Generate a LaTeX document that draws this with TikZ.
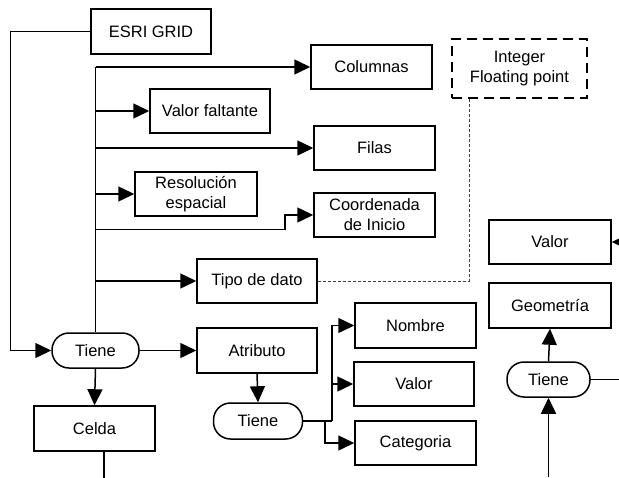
\documentclass[tikz,border=0pt]{standalone}
\usepackage{fontspec}
\setmainfont{Liberation Sans}
\usetikzlibrary{arrows.meta}
\tikzset{
	caja/.style={draw, line width=1.5pt, minimum width=121pt, minimum height=44pt, inner sep=1pt, align=center, font=\fontsize{16.5}{20}\selectfont},
	tiene/.style={draw, line width=1.5pt, rounded corners=17pt, minimum width=87pt, minimum height=35pt, inner sep=1pt, font=\fontsize{16.5}{20}\selectfont},
	flecha/.style={line width=1.5pt, -{Triangle[length=16pt,width=15pt]}},
	linea/.style={line width=1.5pt}
}

\begin{document}
\begin{tikzpicture}[x=1pt,y=-1pt]
	\useasboundingbox (0,0) rectangle (619,477);

	\node (esri) at (151,31.5) [caja, minimum width=120pt, minimum height=45pt]{ESRI GRID};
	\node (columnas) at (371.5,67) [caja]{Columnas};
	\node (tipos) at (519.5,68.5) [caja, minimum width=135pt, minimum height=59pt, dash pattern=on 10pt off 6pt, line width=2.4pt]{Integer\\Floating point};
	\node (faltante) at (210,111) [caja, minimum width=120pt]{Valor faltante};
	\node (filas) at (374.5,148) [caja]{Filas};
	\node (resolucion) at (196,194) [caja, minimum width=122pt]{Resolución\\espacial};
	\node (coordenada) at (374.5,215) [caja]{Coordenada\\de Inicio};
	\node (tipo) at (257,281) [caja, minimum width=120pt]{Tipo de dato};
	\node (valorG) at (550,242) [caja, minimum width=122pt]{Valor};
	\node (geometria) at (550,305.5) [caja, minimum width=122pt, minimum height=45pt]{Geometría};

	\node (tieneG) at (95.5,350.5) [tiene]{Tiene};
	\node (atributo) at (257,350.5) [caja, minimum width=120pt, minimum height=45pt]{Atributo};
	\node (celda) at (94.5,428.5) [caja, minimum height=45pt]{Celda};
	\node (tieneA) at (258,421) [tiene, minimum width=89pt, minimum height=36pt]{Tiene};
	\node (nombre) at (415.5,325.5) [caja, minimum height=45pt]{Nombre};
	\node (valorA) at (414,384) [caja, minimum width=120pt]{Valor};
	\node (categoria) at (415.5,443) [caja]{Categoria};
	\node (tieneV) at (548.5,379.5) [tiene, minimum width=83pt]{Tiene};

	% ESRI GRID tiene ...
	\draw [flecha] (esri.west) -- ++(-80,0) |- (tieneG.west);
	\draw [linea] (tieneG.north) -- (tieneG.north |- columnas.west);
	\draw [flecha] (tieneG.north |- columnas.west) -- (columnas.west);
	\draw [flecha] (tieneG.north |- faltante.west) -- (faltante.west);
	\draw [flecha] (tieneG.north |- filas.west) -- (filas.west);
	\draw [flecha] (tieneG.north |- resolucion.west) -- (resolucion.west);
	\draw [flecha] (tieneG.north) ++(0,-103) -- ++(189.5,0) |- (coordenada.west);
	\draw [flecha] (tieneG.north |- tipo.west) -- (tipo.west);
	\draw [dash pattern=on 3pt off 2pt, line width=1pt, black!75] (tipo.east) -| ([xshift=-50.5pt]tipos.south);

	\draw [flecha] (tieneG.east) -- (atributo.west);
	\draw [flecha] (tieneG.south) -- (celda.north);
	\draw [linea] ([xshift=9.5pt]celda.south) -- ++(0,26);

	% atributo tiene ...
	\draw [flecha] (atributo.south) -- (tieneA.north);
	\coordinate (ramaA) at (332,421);
	\coordinate (ramaB) at (325,421);
	\draw [linea] (tieneA.east) -- (ramaA);
	\draw [flecha] (ramaA) |- (nombre.west);
	\draw [flecha] (ramaA) |- (valorA.west);
	\draw [flecha] (ramaB) |- (categoria.west);

	% geometria
	\coordinate (finV) at (619,242);
	\coordinate (finT) at (619,379.5);
	\coordinate (finB) at (548.5,477);
	\draw [flecha] (finV) -- (valorG.east);
	\draw [flecha] (tieneV.north) -- (geometria.south);
	\draw [flecha] (finB) -- (tieneV.south);
	\draw [linea] (tieneV.east) -- (finT);
\end{tikzpicture}
\end{document}
